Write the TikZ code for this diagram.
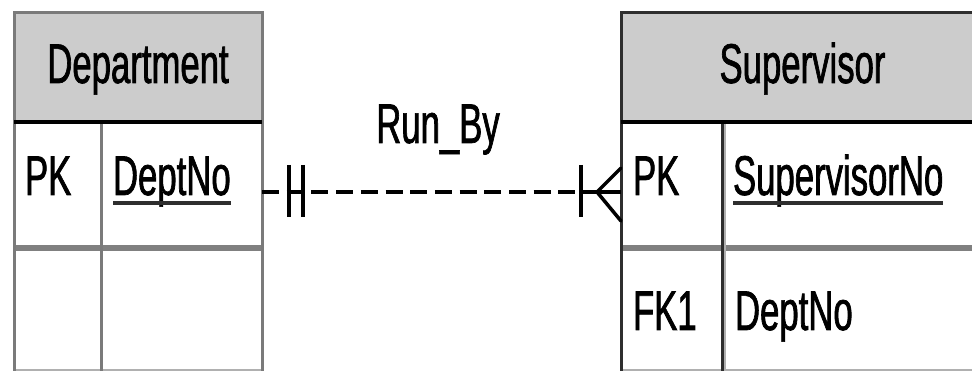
\documentclass[tikz,border=0pt]{standalone}
\usepackage{fontspec}
\setmainfont[FakeStretch=0.62,FakeBold=1.2]{Liberation Sans}
\usetikzlibrary{calc}
\definecolor{hdr}{HTML}{CCCCCC}
\definecolor{bord}{HTML}{7A7A7A}
\definecolor{dark}{HTML}{2E2E2E}
\definecolor{rowline}{HTML}{808080}
\definecolor{lightline}{HTML}{B0B0B0}
\tikzset{
  lbl/.style={inner sep=0pt, outer sep=0pt, text=black, font=\fontsize{56}{60}\selectfont},
  hdrline/.style={draw=black, line width=4pt},
  rowdiv/.style={draw=rowline, line width=6pt},
  botline/.style={draw=lightline, line width=3pt},
  ulineS/.style={draw=dark, line width=3.5pt},
  rel/.style={draw=black, line width=4.5pt, dash pattern=on 17pt off 7.7pt},
  tick/.style={draw=black, line width=4pt},
  crow/.style={draw=black, line width=3.5pt, line cap=round}
}
\begin{document}
\begin{tikzpicture}[x=1pt,y=-1pt]
\useasboundingbox[fill=white] (0,0) rectangle (972,371);
\clip (0,0) rectangle (972,371);
% ---------- Department table ----------
\fill[hdr] (14,13) rectangle (262,123);
\draw[rowdiv] (14,248) -- (262,248);
\draw[botline] (14,370) -- (262,370);
\draw[draw=bord, line width=3pt] (101,123) -- (101,371);
\draw[draw=bord, line width=3pt] (14,371) -- (14,13) -- (262,13) -- (262,371);
\draw[hdrline] (14,122.5) -- (262,122.5);
% ---------- Supervisor table ----------
\fill[hdr] (621,13) rectangle (990,123);
\draw[rowdiv] (621,248) -- (990,248);
\draw[botline] (621,370) -- (990,370);
\draw[draw=lightline, line width=2pt] (725,123) -- (725,371);
\draw[draw=dark, line width=2.5pt] (722.5,123) -- (722.5,371);
\draw[draw=dark, line width=3pt] (621,371) -- (621,13) -- (990,13);
\draw[hdrline] (621,122.5) -- (990,122.5);
% ---------- texts ----------
\node[lbl, anchor=base] (dept) at (138,83) {Department};
\node[lbl, anchor=base] (sup) at (802.5,83) {Supervisor};
\node[lbl, anchor=base west] (dpk) at (25,195) {PK};
\node[lbl, anchor=base west] (dno) at (113,195) {DeptNo};
\node[lbl, anchor=base west] (spk) at (633,195) {PK};
\node[lbl, anchor=base west] (sno) at (733,195) {SupervisorNo};
\node[lbl, anchor=base west] (sfk) at (633,330) {FK1};
\node[lbl, anchor=base west] (sdn) at (735,330) {DeptNo};
\node[lbl, anchor=base] (runby) at (438,143) {Run\_By};
\draw[ulineS] ([yshift=-8pt]dno.base west) -- ([yshift=-8pt]dno.base east);
\draw[ulineS] ([yshift=-8pt]sno.base west) -- ([yshift=-8pt]sno.base east);
% ---------- relationship ----------
\coordinate (deptR) at (262,192);
\coordinate (supL) at (621,192);
\draw[rel] (deptR) -- (supL);
\draw[tick] ($(deptR)+(27,-27)$) -- ($(deptR)+(27,25)$);
\draw[tick] ($(deptR)+(40.5,-27)$) -- ($(deptR)+(40.5,25)$);
\draw[draw=black, line width=4.5pt] ($(deptR)+(27,0)$) -- ($(deptR)+(40.5,0)$);
\draw[tick] ($(supL)+(-40,-27)$) -- ($(supL)+(-40,25)$);
\draw[draw=black, line width=4.5pt] ($(supL)+(-24,0)$) -- (supL);
\draw[crow] ($(supL)+(-24,0)$) -- ($(supL)+(0,-24)$);
\draw[crow] ($(supL)+(-24,0)$) -- ($(supL)+(0,29)$);
\end{tikzpicture}
\end{document}
